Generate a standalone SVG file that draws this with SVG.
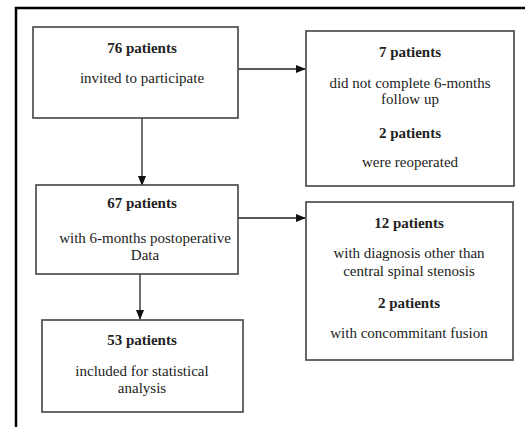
<svg xmlns="http://www.w3.org/2000/svg" width="525" height="427" viewBox="0 0 525 427">
<defs>
<marker id="ah" markerWidth="10" markerHeight="8" refX="9" refY="4" orient="auto" markerUnits="userSpaceOnUse">
<path d="M0,0 L10,4 L0,8 Z" fill="#111"/>
</marker>
<style>
.box{fill:#fff;stroke:#444;stroke-width:1.6}
.t{font-family:"Liberation Serif","Times New Roman",serif;font-size:15px;fill:#222;text-anchor:middle}
.b{font-weight:bold}
.c{stroke:#222;stroke-width:1.3;fill:none;marker-end:url(#ah)}
</style>
</defs>
<rect width="525" height="427" fill="#fff"/>
<path d="M16,427 V8 H525" fill="none" stroke="#000" stroke-width="2.5"/>
<g id="connectors">
<line class="c" x1="142" y1="118" x2="142" y2="185"/>
<line class="c" x1="238" y1="69" x2="305" y2="69"/>
<line class="c" x1="140" y1="274" x2="140" y2="319"/>
<line class="c" x1="238" y1="218" x2="305" y2="218"/>
</g>
<g id="n76">
<rect class="box" x="33" y="27" width="205" height="91"/>
<text class="t b" x="142" y="53">76 patients</text>
<text class="t" x="142" y="83">invited to participate</text>
</g>
<g id="n7">
<rect class="box" x="306" y="31" width="208" height="155"/>
<text class="t b" x="410" y="57">7 patients</text>
<text class="t" x="410" y="88">did not complete 6-months</text>
<text class="t" x="410" y="104">follow up</text>
<text class="t b" x="410" y="138">2 patients</text>
<text class="t" x="410" y="167">were reoperated</text>
</g>
<g id="n67">
<rect class="box" x="36" y="185" width="202" height="89"/>
<text class="t b" x="142" y="208">67 patients</text>
<text class="t" x="145" y="243">with 6-months postoperative</text>
<text class="t" x="145" y="260">Data</text>
</g>
<g id="n12">
<rect class="box" x="306" y="202" width="207" height="158"/>
<text class="t b" x="409" y="228">12 patients</text>
<text class="t" x="409" y="258">with diagnosis other than</text>
<text class="t" x="409" y="276">central spinal stenosis</text>
<text class="t b" x="409" y="308">2 patients</text>
<text class="t" x="409" y="338">with concommitant fusion</text>
</g>
<g id="n53">
<rect class="box" x="42" y="320" width="201" height="92"/>
<text class="t b" x="142" y="345">53 patients</text>
<text class="t" x="142" y="376">included for statistical</text>
<text class="t" x="142" y="393">analysis</text>
</g>
</svg>
